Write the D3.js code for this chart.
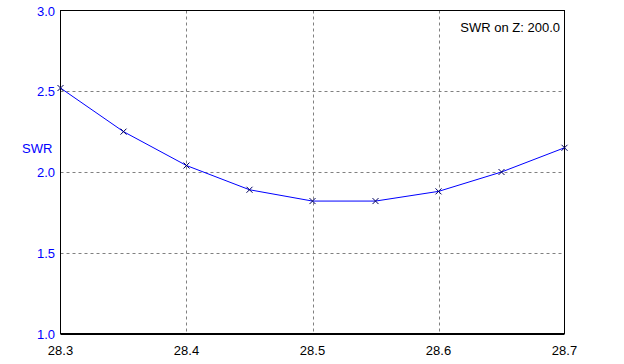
<!DOCTYPE html>
<html>
<head>
<meta charset="utf-8">
<script src="https://cdn.jsdelivr.net/npm/d3@7"></script>
<style>
  body { margin: 0; background: #fff; }
  text { font-family: "Liberation Sans", Arial, sans-serif; font-size: 13px; }
</style>
</head>
<body>
<svg width="624" height="364"></svg>
<script>
var freqs = [28.3, 28.35, 28.4, 28.45, 28.5, 28.55, 28.6, 28.65, 28.7];
var swr = [2.52, 2.25, 2.04, 1.89, 1.82, 1.82, 1.88, 2.0, 2.15];
var xTicks = [28.3, 28.4, 28.5, 28.6, 28.7];
var yTicks = [1.0, 1.5, 2.0, 2.5, 3.0];

function main() {
    var svg = d3.select("svg"),
        left = 60.5, right = 564.5, top = 10.5, bottom = 333.5;

    var x = d3.scaleLinear().domain([28.3, 28.7]).range([left, right]);
    var y = d3.scaleLinear().domain([1.0, 3.0]).range([bottom, top]);

    // grid
    var grid = svg.append("g").attr("stroke", "#808080").attr("stroke-dasharray", "3,3");
    grid.selectAll(".gx").data(xTicks.slice(1, -1)).enter().append("line")
        .attr("x1", function(d) { return Math.round(x(d)) + 0.5; })
        .attr("x2", function(d) { return Math.round(x(d)) + 0.5; })
        .attr("y1", top).attr("y2", bottom);
    grid.selectAll(".gy").data(yTicks.slice(1, -1)).enter().append("line")
        .attr("y1", function(d) { return Math.round(y(d)) + 0.5; })
        .attr("y2", function(d) { return Math.round(y(d)) + 0.5; })
        .attr("x1", left).attr("x2", right);

    // frame
    svg.append("rect")
       .attr("x", left).attr("y", top)
       .attr("width", right - left).attr("height", bottom - top)
       .attr("fill", "none").attr("stroke", "#000");
    svg.append("line").attr("x1", left).attr("x2", right)
       .attr("y1", bottom + 1).attr("y2", bottom + 1).attr("stroke", "#000");

    // y tick labels
    svg.selectAll(".yl").data(yTicks).enter().append("text")
       .attr("x", 55).attr("y", function(d) { return y(d) + 5; })
       .attr("text-anchor", "end").attr("fill", "#0000ff")
       .text(function(d) { return d.toFixed(1); });

    // x tick labels
    svg.selectAll(".xl").data(xTicks).enter().append("text")
       .attr("x", function(d) { return x(d); }).attr("y", 355)
       .attr("text-anchor", "middle").attr("fill", "#000")
       .text(function(d) { return d.toFixed(1); });

    svg.append("text").attr("x", 22).attr("y", 153).attr("fill", "#0000ff").text("SWR");
    svg.append("text").attr("x", 560).attr("y", 32).attr("text-anchor", "end")
       .attr("fill", "#000").text("SWR on Z: 200.0");

    var pts = freqs.map(function(f, i) { return [f, swr[i]]; });

    var line = d3.line()
        .x(function(d) { return x(d[0]); })
        .y(function(d) { return y(d[1]); });
    svg.append("path").datum(pts)
       .attr("d", line).attr("fill", "none")
       .attr("stroke", "#0000ff").attr("stroke-width", 1);

    // x markers
    svg.selectAll(".mk").data(pts).enter().append("path")
       .attr("d", function(d) {
           var cx = x(d[0]), cy = y(d[1]), s = 3;
           return "M" + (cx - s) + "," + (cy - s) + "L" + (cx + s) + "," + (cy + s) +
                  "M" + (cx - s) + "," + (cy + s) + "L" + (cx + s) + "," + (cy - s);
       })
       .attr("stroke", "#000060").attr("stroke-width", 1).attr("fill", "none");
}
main();
</script>
</body>
</html>
